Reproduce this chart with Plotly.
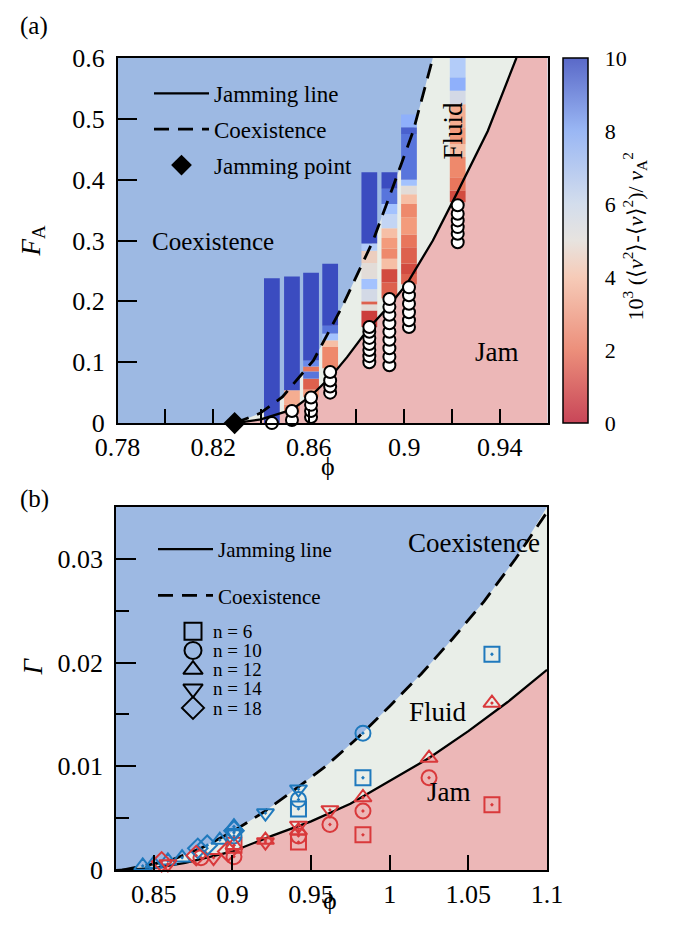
import plotly.graph_objects as go

# page is 673x935 with an 8px body margin -> figure is 665x927
OFF = 8
W, H = 673 - OFF, 935 - OFF
FONT = "Liberation Serif, Times New Roman, serif"

# ---------------- Panel (a) data ----------------
A_JAM_PHI = [0.829, 0.840, 0.853, 0.861, 0.869, 0.876, 0.885, 0.893, 0.901, 0.912, 0.922, 0.935, 0.947]
A_JAM_F = [0.0, 0.006, 0.022, 0.045, 0.075, 0.108, 0.155, 0.190, 0.228, 0.300, 0.377, 0.480, 0.600]
A_COEX_PHI = [0.829, 0.8396, 0.849, 0.862, 0.874, 0.887, 0.895, 0.9038, 0.912]
A_COEX_F = [0.0, 0.016, 0.043, 0.103, 0.191, 0.300, 0.385, 0.480, 0.600]
A_JPOINT_PHI = [0.829]
A_JPOINT_F = [0.0]

COL_PHI = [0.8446, 0.853, 0.861, 0.869, 0.8854, 0.8938, 0.902, 0.9224]
COL_EDGES = [
    [0.0, 0.238],
    [0.016, 0.030, 0.054, 0.241],
    [0.043, 0.055, 0.073, 0.085, 0.093, 0.103, 0.247],
    [0.090, 0.125, 0.136, 0.147, 0.160, 0.262],
    [0.158, 0.185, 0.195, 0.200, 0.220, 0.237, 0.263, 0.283, 0.295, 0.412],
    [0.205, 0.231, 0.253, 0.270, 0.287, 0.304, 0.320, 0.343, 0.360, 0.385, 0.412],
    [0.228, 0.245, 0.262, 0.289, 0.310, 0.338, 0.360, 0.376, 0.390, 0.400, 0.475, 0.486, 0.507],
    [0.363, 0.382, 0.404, 0.437, 0.458, 0.486, 0.524, 0.546, 0.568, 0.600],
]
COL_VALS = [
    [10],
    [2.5, 3.5, 10],
    [3, 1.5, 9, 2, 8.5, 10],
    [2.5, 4, 7, 9, 10],
    [0.8, 5, 1.5, 5.5, 7, 5, 4.5, 6.5, 10],
    [1.5, 1, 4, 2.5, 3, 4, 6, 7, 9, 10],
    [1.5, 1, 1.5, 2, 3, 2.5, 4, 5, 7, 9, 9.5, 7.5],
    [1, 2, 2.5, 4, 3, 3.5, 5.5, 7.5, 6.5],
]
CIRC_F = [
    [0.0],
    [0.005, 0.020],
    [0.010, 0.020, 0.030, 0.042],
    [0.050, 0.060, 0.070, 0.084],
    [0.10, 0.11, 0.12, 0.13, 0.14, 0.15, 0.158],
    [0.095, 0.109, 0.123, 0.137, 0.150, 0.164, 0.178, 0.191, 0.204],
    [0.158, 0.169, 0.182, 0.196, 0.210, 0.223],
    [0.297, 0.311, 0.322, 0.333, 0.344, 0.358],
]

# ---------------- Panel (b) data ----------------
B_JAM_PHI = [0.826, 0.85, 0.87, 0.90, 0.925, 0.95, 0.975, 1.0, 1.025, 1.05, 1.075, 1.1]
B_JAM_G = [0.0, 0.0002, 0.0007, 0.0018, 0.0033, 0.0047, 0.0064, 0.0086, 0.0108, 0.0134, 0.0162, 0.0193]
B_COEX_PHI = [0.83, 0.86, 0.88, 0.90, 0.92, 0.94, 0.96, 0.98, 1.0, 1.02, 1.04, 1.06, 1.08, 1.1]
B_COEX_G = [0.0, 0.0009, 0.0021, 0.0037, 0.0056, 0.0078, 0.0101, 0.0128, 0.0158, 0.0189, 0.0223, 0.0259, 0.0300, 0.0345]

N_LABELS = ["n = 6", "n = 10", "n = 12", "n = 14", "n = 18"]
N_KEYS = ["6", "10", "12", "14", "18"]
SYMBOLS = ["square", "circle", "triangle-up", "triangle-down", "diamond"]
BLUE_PTS = {
    "6": ([1.065, 0.983, 0.942], [0.0208, 0.0089, 0.0059]),
    "10": ([0.983, 0.942, 0.901], [0.0132, 0.0068, 0.0033]),
    "12": ([0.843, 0.850, 0.859, 0.868, 0.892, 0.901], [0.0004, 0.0006, 0.0009, 0.0012, 0.0029, 0.0042]),
    "14": ([0.942, 0.921, 0.901], [0.0078, 0.0055, 0.0036]),
    "18": ([0.878, 0.884, 0.901], [0.0021, 0.0024, 0.0038]),
}
RED_PTS = {
    "6": ([1.065, 0.983, 0.942, 0.901], [0.0063, 0.0034, 0.0027, 0.0024]),
    "10": ([1.025, 0.983, 0.962, 0.942, 0.901, 0.880], [0.0089, 0.0057, 0.0044, 0.0033, 0.0013, 0.0012]),
    "12": ([1.065, 1.025, 0.983, 0.942, 0.921, 0.901], [0.0161, 0.0108, 0.0070, 0.0038, 0.0029, 0.0024]),
    "14": ([0.962, 0.942, 0.921, 0.888, 0.859], [0.0058, 0.0043, 0.0027, 0.0012, 0.0006]),
    "18": ([0.877, 0.855, 0.897], [0.0014, 0.0008, 0.0018]),
}

# ---------------- styles ----------------
C_BLUE_BG = "#9db9e3"
C_FLUID = "#e9eee8"
C_JAM = "#ecb7b7"
C_PT_BLUE = "#1f79bd"
C_PT_RED = "#d9393b"
CELL_SCALE = [[0.0, "#b40426"], [0.1, "#d24b40"], [0.2, "#e8765c"], [0.3, "#f39b7c"],
              [0.4, "#f6bfa6"], [0.5, "#e2dcd8"], [0.6, "#c3d5f4"], [0.7, "#a3c2fe"],
              [0.8, "#7a9df8"], [0.9, "#5875dc"], [1.0, "#3b4cc0"]]
CB_SCALE = [[0.0, "#c84658"], [0.2, "#ec8f7b"], [0.4, "#f6cbb8"], [0.5, "#e7e3df"],
            [0.6, "#d3ddec"], [0.8, "#9ab7f4"], [1.0, "#5a69c8"]]
CB_TICKS = [0, 2, 4, 6, 8, 10]
CB_LINES = [2, 4, 6, 8]
DASH = "15px,9px"

# page-pixel layout of the plot areas
AX_L_A, AX_R_A, AX_T_A, AX_B_A = 117.6, 547.5, 57, 423
AX_L_B, AX_R_B, AX_T_B, AX_B_B = 116, 547, 507, 871
XR_A, YR_A = [0.78, 0.96], [0.0, 0.6]
XR_B, YR_B = [0.826, 1.1], [0.0, 0.035]
CB_L, CB_R = 563, 588


def px(x):
    return (x - OFF) / W


def py(y):
    return 1 - (y - OFF) / H


def poly_path(xs, ys):
    return "M " + " L ".join(f"{a},{b}" for a, b in zip(xs, ys)) + " Z"


fig = go.Figure()

# ---- region fills as shapes below traces
fig.add_shape(type="path", xref="x", yref="y", layer="below", line=dict(width=0), fillcolor=C_FLUID,
              path=poly_path(A_COEX_PHI + [XR_A[1], XR_A[1]], A_COEX_F + [YR_A[1], YR_A[0]]))
fig.add_shape(type="path", xref="x", yref="y", layer="below", line=dict(width=0), fillcolor=C_JAM,
              path=poly_path(A_JAM_PHI + [XR_A[1], XR_A[1]], A_JAM_F + [YR_A[1], YR_A[0]]))
fig.add_shape(type="path", xref="x2", yref="y2", layer="below", line=dict(width=0), fillcolor=C_FLUID,
              path=poly_path(B_COEX_PHI + [XR_B[1], XR_B[1], XR_B[0]],
                             B_COEX_G[:-1] + [YR_B[1], YR_B[1], YR_B[0], YR_B[0]]))
fig.add_shape(type="path", xref="x2", yref="y2", layer="below", line=dict(width=0), fillcolor=C_JAM,
              path=poly_path(B_JAM_PHI + [XR_B[1]], B_JAM_G + [YR_B[0]]))

# ---- columns of cells
for phi, edges, vals in zip(COL_PHI, COL_EDGES, COL_VALS):
    fig.add_trace(go.Bar(
        x=[phi] * len(vals), base=edges[:-1],
        y=[b - a for a, b in zip(edges[:-1], edges[1:])],
        width=0.0066,
        marker=dict(color=vals, colorscale=CELL_SCALE, cmin=0, cmax=10, line=dict(width=0)),
        showlegend=False, hoverinfo="skip", xaxis="x", yaxis="y"))

# ---- curves (a)
fig.add_trace(go.Scatter(x=A_JAM_PHI, y=A_JAM_F, mode="lines", line=dict(color="black", width=2.3),
                         name="Jamming line", legend="legend", legendgroup="a1", xaxis="x", yaxis="y"))
fig.add_trace(go.Scatter(x=A_COEX_PHI, y=A_COEX_F, mode="lines",
                         line=dict(color="black", width=2.8, dash=DASH),
                         name="Coexistence", legend="legend", legendgroup="a2", xaxis="x", yaxis="y"))

# ---- circles
cx, cy = [], []
for phi, fs in zip(COL_PHI, CIRC_F):
    cx += [phi] * len(fs)
    cy += fs
fig.add_trace(go.Scatter(x=cx, y=cy, mode="markers",
                         marker=dict(symbol="circle", size=12, color="white",
                                     line=dict(color="black", width=2)),
                         showlegend=False, hoverinfo="skip", xaxis="x", yaxis="y", cliponaxis=False))

fig.add_trace(go.Scatter(x=A_JPOINT_PHI, y=A_JPOINT_F, mode="markers",
                         marker=dict(symbol="diamond", size=17, color="black"),
                         name="Jamming point", legend="legend", legendgroup="a3",
                         xaxis="x", yaxis="y", cliponaxis=False))

# ---- colorbar (dummy)
fig.add_trace(go.Scatter(
    x=[None], y=[None], mode="markers", showlegend=False, hoverinfo="skip", xaxis="x", yaxis="y",
    marker=dict(color=[0], colorscale=CB_SCALE, cmin=0, cmax=10, showscale=True,
                colorbar=dict(x=px(CB_L), xanchor="left", xpad=0,
                              y=py(AX_B_A), yanchor="bottom", len=(AX_B_A - AX_T_A) / H,
                              lenmode="fraction", ypad=0, thickness=CB_R - CB_L,
                              outlinewidth=1.5, outlinecolor="black",
                              tickvals=CB_TICKS, ticks="outside", ticklen=12,
                              tickcolor="rgba(0,0,0,0)",
                              tickfont=dict(family=FONT, size=22, color="black")))))

# ---- panel (b) curves
fig.add_trace(go.Scatter(x=B_JAM_PHI, y=B_JAM_G, mode="lines", line=dict(color="black", width=2.3),
                         name="Jamming line", legend="legend2", legendgroup="b1", xaxis="x2", yaxis="y2"))
fig.add_trace(go.Scatter(x=B_COEX_PHI, y=B_COEX_G, mode="lines",
                         line=dict(color="black", width=2.8, dash=DASH),
                         name="Coexistence", legend="legend2", legendgroup="b2", xaxis="x2", yaxis="y2"))

for key, sym in zip(N_KEYS, SYMBOLS):
    for pts, col in ((BLUE_PTS, C_PT_BLUE), (RED_PTS, C_PT_RED)):
        xs, ys = pts[key]
        fig.add_trace(go.Scatter(x=xs, y=ys, mode="markers",
                                 marker=dict(symbol=sym + "-open-dot", size=15, color=col,
                                             line=dict(color=col, width=2)),
                                 showlegend=False, xaxis="x2", yaxis="y2", cliponaxis=False))

# ---- marker key of panel (b): a tiny categorical axis with labels on the right
fig.add_trace(go.Scatter(x=[0] * len(N_LABELS), y=N_LABELS, mode="markers",
                         marker=dict(symbol=[s + "-open" for s in SYMBOLS], size=17, color="black",
                                     line=dict(color="black", width=2)),
                         showlegend=False, hoverinfo="skip", xaxis="x3", yaxis="y3", cliponaxis=False))

tickfont = dict(family=FONT, size=26, color="black")
axis_common = dict(showline=True, linecolor="black", linewidth=1.5, mirror=True,
                   ticks="inside", tickcolor="black", tickwidth=1.5, showgrid=False,
                   zeroline=False, tickfont=tickfont, automargin=False)

fig.update_layout(
    width=W, height=H, margin=dict(l=0, r=0, t=0, b=0),
    paper_bgcolor="white", plot_bgcolor=C_BLUE_BG, barmode="overlay",
    xaxis=dict(domain=[px(AX_L_A), px(AX_R_A)], range=XR_A, anchor="y",
               tickvals=[0.78, 0.82, 0.86, 0.90, 0.94], ticktext=["0.78", "0.82", "0.86", "0.9", "0.94"],
               ticklen=14, minor=dict(dtick=0.02, tick0=0.78, ticks="inside", ticklen=14,
                                      tickcolor="black", tickwidth=1.5),
               **axis_common),
    yaxis=dict(domain=[py(AX_B_A), py(AX_T_A)], range=YR_A, anchor="x",
               tickvals=[0, 0.1, 0.2, 0.3, 0.4, 0.5, 0.6], ticktext=["0", "0.1", "0.2", "0.3", "0.4", "0.5", "0.6"],
               ticklen=20, ticklabelstandoff=6, **axis_common),
    xaxis2=dict(domain=[px(AX_L_B), px(AX_R_B)], range=XR_B, anchor="y2",
                tickvals=[0.85, 0.9, 0.95, 1.0, 1.05, 1.1], ticktext=["0.85", "0.9", "0.95", "1", "1.05", "1.1"],
                ticklen=15, **axis_common),
    yaxis2=dict(domain=[py(AX_B_B), py(AX_T_B)], range=YR_B, anchor="x2",
                tickvals=[0, 0.01, 0.02, 0.03], ticktext=["0", "0.01", "0.02", "0.03"],
                ticklen=20, ticklabelstandoff=6,
                minor=dict(dtick=0.005, ticks="inside", ticklen=13, tickcolor="black", tickwidth=1.5),
                **axis_common),
    xaxis3=dict(domain=[px(184), px(202)], range=[-1, 1], anchor="y3", visible=False, fixedrange=True),
    yaxis3=dict(domain=[py(718), py(622)], anchor="x3", type="category", categoryarray=N_LABELS,
                categoryorder="array", range=[len(N_LABELS) - 0.5, -0.5], side="right",
                tickmode="array", tickvals=N_LABELS, ticktext=N_LABELS,
                showline=False, showgrid=False, zeroline=False, ticks="", ticklabelstandoff=10,
                fixedrange=True, tickfont=dict(family=FONT, size=19, color="black")),
    legend=dict(x=px(149), y=py(71), xanchor="left", yanchor="top", bgcolor="rgba(0,0,0,0)",
                font=dict(family=FONT, size=23, color="black"), itemwidth=55, tracegroupgap=3),
    legend2=dict(x=px(153), y=py(529), xanchor="left", yanchor="top", bgcolor="rgba(0,0,0,0)",
                 font=dict(family=FONT, size=21, color="black"), itemwidth=55, tracegroupgap=16),
)

# colorbar divider lines
for v in CB_LINES:
    yy = py(AX_B_A) + v / 10 * (AX_B_A - AX_T_A) / H
    fig.add_shape(type="line", xref="paper", yref="paper", x0=px(CB_L), x1=px(CB_R), y0=yy, y1=yy,
                  line=dict(color="black", width=1.5))


def ann(text, x, y, size=23, angle=0, xref="paper", yref="paper"):
    fig.add_annotation(text=text, x=x, y=y, xref=xref, yref=yref, showarrow=False,
                       textangle=angle, font=dict(family=FONT, size=size, color="black"),
                       xanchor="center", yanchor="middle")


ann("(a)", px(34), py(25), size=25)
ann("(b)", px(34), py(499), size=25)
ann("<i>F</i><sub>A</sub>", px(33), py(240), size=27, angle=-90)
ann("ϕ", px(328), py(466), size=26)
ann("<i>Γ</i>", px(33), py(667), size=27, angle=-90)
ann("ϕ", px(330), py(901), size=26)
ann("10<sup>3</sup> (⟨<i>v</i><sup>2</sup>⟩-⟨<i>v</i>⟩<sup>2</sup>)/ <i>v</i><sub>A</sub><sup>2</sup>",
    px(635), py(236), size=22, angle=-90)

ann("Coexistence", 0.82, 0.298, size=25, xref="x", yref="y")
ann("Fluid", 0.9203, 0.48, size=27, angle=-90, xref="x", yref="y")
ann("Jam", 0.9388, 0.116, size=27, xref="x", yref="y")
ann("Coexistence", 1.0534, 0.0315, size=27, xref="x2", yref="y2")
ann("Fluid", 1.0305, 0.0152, size=27, xref="x2", yref="y2")
ann("Jam", 1.0375, 0.0075, size=27, xref="x2", yref="y2")

fig.write_html("out.html")
